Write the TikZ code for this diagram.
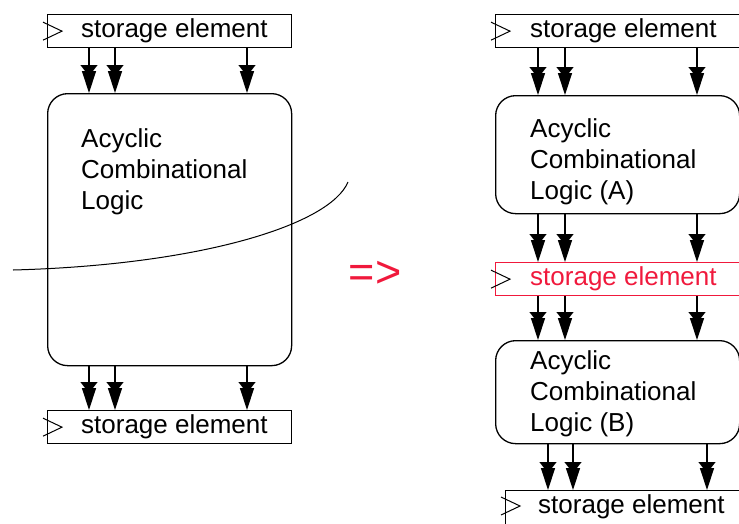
\documentclass[tikz,border=0pt]{standalone}
\usepackage{fontspec}
\setmainfont{Liberation Sans}
\usetikzlibrary{arrows.meta,calc,positioning}
\definecolor{regred}{RGB}{240,25,60}
\def\clockmark[#1](#2){\draw[#1] ($(#2.west)+(-4,-9)$) -- ($(#2.west)+(15,0)$) -- ($(#2.west)+(-4,9)$);}
\tikzset{
  se/.style={draw, line width=1.3pt, minimum width=244pt, minimum height=33pt, anchor=north west, inner sep=0pt},
  setext/.style={inner sep=0pt, font=\fontsize{26}{31}\selectfont},
  logic/.style={draw, line width=1.3pt, rounded corners=20pt, minimum width=244pt, anchor=north west, inner sep=0pt},
  logictext/.style={inner sep=0pt, align=left, font=\fontsize{26}{31}\selectfont},
  sig/.style={line width=1.3pt, -{Triangle[width=17pt,length=11pt,sep=-5pt]Triangle[width=14pt,length=22pt]}},
}
\begin{document}
\begin{tikzpicture}[x=1pt,y=-1pt]
			%%%%% START %%%%%
			\useasboundingbox (0,0) rectangle (739,523);
			
			% before: one big block
			\node[se] (seL1) at (47,14) {};
			\node[setext, right=34pt of seL1.west] (seL1t) {storage element};
			\clockmark[line width=1pt](seL1)
			
			\node[logic, minimum height=272pt] (logL) at (47,93) {};
			\node[logictext, below right=35pt and 34pt of logL.north west] (logLt) {Acyclic\\Combinational\\Logic};
			
			\node[se] (seL2) at (47,410) {};
			\node[setext, right=34pt of seL2.west] (seL2t) {storage element};
			\clockmark[line width=1pt](seL2)
			
			\foreach \x in {89,115,247} {
				\draw[sig] (\x,0 |- seL1.south) -- (\x,0 |- logL.north);
				\draw[sig] (\x,0 |- logL.south) -- (\x,0 |- seL2.north);
			}
			
			\coordinate (cutA) at (13,270);
			\coordinate (cutB) at (348,182);
			\draw[line width=1pt] (cutA) .. controls (200,265) and (330,225) .. (cutB);
			
			\node[text=regred, font=\fontsize{45}{45}\selectfont] (goes) at (375,274) {=>};
			
			% after: split in two
			\node[se, minimum width=250pt] (seR1) at (495,14) {};
			\node[setext, right=35pt of seR1.west] (seR1t) {storage element};
			\clockmark[line width=1pt](seR1)
			
			\node[logic, minimum height=118pt] (logA) at (495,95) {};
			\node[logictext, below right=23pt and 35pt of logA.north west] (logAt) {Acyclic\\Combinational\\Logic (A)};
			
			\node[se, draw=regred] (seR2) at (495,262) {};
			\node[setext, text=regred, right=35pt of seR2.west] (seR2t) {storage element};
			\clockmark[line width=1pt](seR2)
			
			\node[logic, minimum height=103pt] (logB) at (495,340) {};
			\node[logictext, below right=10pt and 35pt of logB.north west] (logBt) {Acyclic\\Combinational\\Logic (B)};
			
			\node[se, minimum height=40pt] (seR3) at (505,490) {};
			\node[setext, right=33pt of seR3.west, yshift=4pt] (seR3t) {storage element};
			\draw[line width=1pt] (501,497) -- (520,506) -- (501,515);
			
			\foreach \x in {538,565,697} {
				\draw[sig] (\x,0 |- seR1.south) -- (\x,0 |- logA.north);
				\draw[sig] (\x,0 |- logA.south) -- (\x,0 |- seR2.north);
				\draw[sig] (\x,0 |- seR2.south) -- (\x,0 |- logB.north);
			}
			\foreach \x in {548,573,707}
				\draw[sig] (\x,0 |- logB.south) -- (\x,0 |- seR3.north);
			
			%%%%% END %%%%%
\end{tikzpicture}
\end{document}
